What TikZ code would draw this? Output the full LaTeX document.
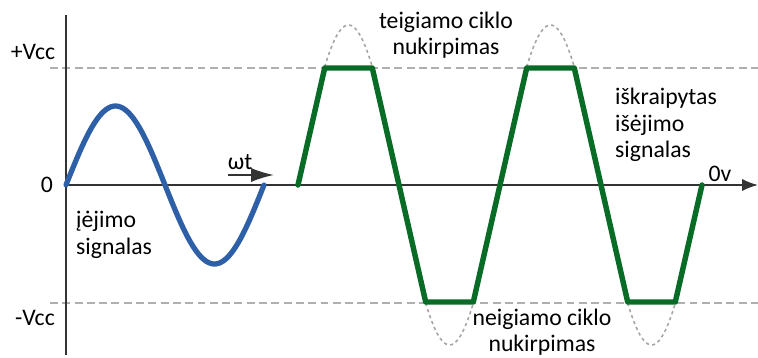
\documentclass[tikz,border=0pt]{standalone}
\usepackage{fontspec}
\setmainfont{Carlito}
\usetikzlibrary{arrows.meta}
\definecolor{inblue}{RGB}{46,96,168}
\definecolor{outgreen}{RGB}{8,108,38}
\definecolor{limitgray}{RGB}{175,175,175}

\begin{document}
\begin{tikzpicture}[x=0.02cm,y=-0.02cm,font=\fontsize{13.5}{15}\selectfont,
  axis/.style={line width=1.1pt,black!80},
  limit/.style={limitgray,line width=0.9pt,dash pattern=on 4.5pt off 2.5pt},
  ghost/.style={gray!70,line width=0.9pt,dash pattern=on 1.8pt off 1.8pt},
  insig/.style={inblue,line width=3pt,line cap=round},
  outsig/.style={outgreen,line width=3.1pt,line join=round,line cap=round}]
  \useasboundingbox (0,0) rectangle (758,358);

  % limits and axes
  \draw[limit] (50,68) -- (758,68);
  \draw[limit] (50,303) -- (758,303);
  \draw[axis] (66,15) -- (66,355);
  \draw[axis,-{Latex[length=9pt,width=7pt]}] (66,185) -- (758,185);

  % input signal
  \draw[insig] plot[domain=66:264,samples=80,smooth] (\x,{185-79*sin((\x-66)/198*360)});

  % clipped peaks of the ideal output
  \foreach \c in {0,1} {
    \draw[ghost] plot[domain=324.7+202*\c:372.3+202*\c,samples=30,smooth]
      (\x,{185-160*sin((\x-298)/202*360)});
    \draw[ghost] plot[domain=425.7+202*\c:473.3+202*\c,samples=30,smooth]
      (\x,{185-160*sin((\x-298)/202*360)});
  }

  % output signal
  \draw[outsig] (298,185) -- (324.7,68) -- (372.3,68) -- (425.7,302) -- (473.3,302)
    -- (526.7,68) -- (574.3,68) -- (627.7,302) -- (675.3,302) -- (702,185);

  % time arrow
  \coordinate (wtstart) at (228,175);
  \coordinate (wtend) at (274,175);
  \draw[line width=1.1pt,black!80,-{Latex[length=13pt,width=8pt]}] (wtstart) -- (wtend);

  % labels
  \node (vplus) at (33,52) {+Vcc};
  \node (zero) at (47,185) {0};
  \node (vminus) at (35,318) {-Vcc};
  \node[align=left,anchor=west] (inlabel) at (70,235) {įėjimo\\signalas};
  \node (wt) at (240,162) {ωt};
  \node[align=center] (poslabel) at (446,35) {teigiamo ciklo\\nukirpimas};
  \node[align=left,anchor=west] (outlabel) at (609,125) {iškraipytas\\išėjimo\\signalas};
  \node (zerov) at (720,174) {0v};
  \node[align=center] (neglabel) at (542,332) {neigiamo ciklo\\nukirpimas};
\end{tikzpicture}
\end{document}
